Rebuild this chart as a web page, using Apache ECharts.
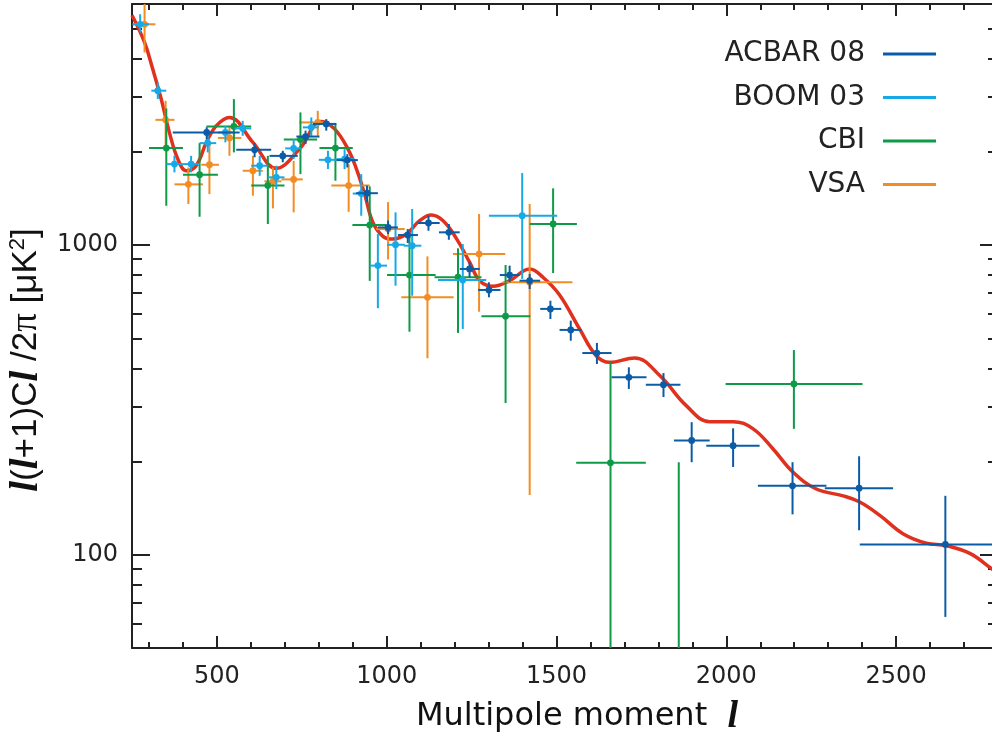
<!DOCTYPE html>
<html>
<head>
<meta charset="utf-8">
<style>
  html, body { margin: 0; padding: 0; background: #fff; }
  #chart { width: 992px; height: 738px; }
</style>
<script src="https://cdn.jsdelivr.net/npm/echarts@6.0.0/dist/echarts.min.js"></script>
</head>
<body>
<div id="chart"></div>
<script>
// each point: [l, value, lLow, lHigh, valueLow, valueHigh]
var acbar = [
  [470, 2310, 370, 567, 2200, 2400],
  [611, 2030, 557, 660, 1920, 2130],
  [694, 1940, 655, 738, 1850, 2015],
  [761, 2240, 734, 802, 2120, 2340],
  [822, 2460, 783, 852, 2340, 2550],
  [884, 1880, 852, 915, 1780, 1965],
  [942, 1470, 910, 974, 1375, 1555],
  [1004, 1140, 974, 1033, 1085, 1200],
  [1062, 1077, 1033, 1092, 1015, 1126],
  [1123, 1178, 1092, 1156, 1112, 1243],
  [1183, 1099, 1154, 1215, 1040, 1169],
  [1244, 837, 1215, 1274, 787, 880],
  [1301, 716, 1269, 1335, 678, 758],
  [1362, 800, 1333, 1391, 758, 858],
  [1421, 767, 1391, 1452, 721, 806],
  [1482, 622, 1452, 1514, 577, 661],
  [1542, 532, 1509, 1573, 491, 570],
  [1619, 448, 1576, 1662, 413, 483],
  [1713, 374, 1662, 1765, 343, 403],
  [1815, 354, 1763, 1865, 323, 386],
  [1898, 234, 1846, 1951, 199, 268],
  [2020, 225, 1941, 2098, 192, 256],
  [2195, 167, 2093, 2295, 135, 199],
  [2391, 164, 2290, 2491, 120, 208],
  [2645, 108, 2393, 2900, 63, 155]
];
var boom = [
  [274, 5160, 252, 300, 4855, 5560],
  [326, 3150, 307, 351, 2960, 3350],
  [375, 1825, 351, 400, 1716, 1941],
  [424, 1825, 400, 449, 1716, 1941],
  [473, 2133, 449, 498, 1991, 2281],
  [525, 2309, 503, 547, 2145, 2425],
  [576, 2380, 552, 601, 2252, 2518],
  [626, 1803, 601, 650, 1673, 1941],
  [675, 1654, 650, 699, 1516, 1803],
  [726, 2051, 701, 750, 1894, 2198],
  [778, 2398, 753, 800, 2252, 2582],
  [827, 1884, 800, 852, 1759, 2015],
  [876, 1894, 852, 905, 1759, 2040],
  [925, 1466, 900, 950, 1243, 1694],
  [974, 858, 950, 1001, 625, 1085],
  [1026, 1002, 1001, 1053, 739, 1275],
  [1075, 995, 1050, 1102, 686, 1307],
  [1224, 771, 1151, 1293, 536, 1007],
  [1399, 1243, 1301, 1502, 777, 1707]
];
var cbi = [
  [351, 2056, 300, 400, 1339, 2761],
  [449, 1686, 400, 503, 1234, 2133],
  [550, 2415, 469, 601, 1991, 2958],
  [650, 1558, 601, 699, 1169, 1941],
  [746, 2190, 697, 795, 1694, 2680],
  [849, 2056, 802, 900, 1613, 2457],
  [950, 1160, 899, 999, 766, 1546],
  [1067, 800, 1001, 1144, 525, 1064],
  [1210, 787, 1141, 1279, 520, 976],
  [1350, 589, 1279, 1423, 309, 862],
  [1490, 1169, 1421, 1560, 812, 1524],
  [1659, 198, 1558, 1763, 10, 418],
  [1860, 25, 1810, 1910, 5, 199],
  [2199, 356, 1998, 2401, 255, 458]
];
var vsa = [
  [287, 5160, 252, 319, 4184, 6500],
  [349, 2536, 319, 375, 2091, 2921],
  [416, 1570, 375, 459, 1356, 1780],
  [478, 1816, 454, 506, 1460, 2118],
  [537, 2217, 503, 572, 1941, 2425],
  [606, 1737, 576, 635, 1443, 1941],
  [665, 1606, 640, 690, 1313, 1780],
  [726, 1629, 690, 753, 1275, 1870],
  [797, 2488, 743, 832, 2252, 2712],
  [888, 1556, 837, 950, 1280, 1825],
  [1004, 1126, 969, 1053, 898, 1376],
  [1120, 678, 1043, 1197, 431, 919],
  [1272, 935, 1195, 1349, 609, 1259],
  [1421, 758, 1342, 1547, 156, 1356]
];
// best-fit model curve
var modelL = [250, 287, 311, 336, 360, 385, 410, 439, 469, 498, 537, 606, 675, 743, 807, 847, 886, 911, 935, 959, 989, 1018, 1058, 1097, 1131, 1166, 1205, 1244, 1274, 1313, 1362, 1421, 1460, 1509, 1568, 1617, 1656, 1730, 1804, 1882, 1951, 2020, 2079, 2137, 2196, 2265, 2344, 2393, 2452, 2520, 2589, 2648, 2717, 2782, 2800];
var modelC = [5520, 4510, 3700, 2960, 2310, 1894, 1737, 1803, 2145, 2425, 2582, 2145, 1768, 2040, 2506, 2367, 2040, 1759, 1460, 1184, 1067, 1045, 1085, 1198, 1250, 1198, 1051, 880, 767, 736, 767, 837, 787, 690, 536, 439, 418, 432, 379, 303, 269, 269, 255, 220, 185, 163, 155, 148, 134, 117, 109, 107, 101, 90, 87];

var xMajor = [500, 1000, 1500, 2000, 2500];
var xMinor = [300, 400, 600, 700, 800, 900, 1100, 1200, 1300, 1400, 1600, 1700, 1800, 1900, 2100, 2200, 2300, 2400, 2600, 2700];
var yMajor = [100, 1000];
var yMinor = [60, 70, 80, 90, 200, 300, 400, 500, 600, 700, 800, 900, 2000, 3000, 4000, 5000];

var names = ["ACBAR 08", "BOOM 03", "CBI", "VSA"];
var colors = ["#0b5ca6", "#17a9e6", "#0f9a48", "#f28c24"];

var ink = "#222";
var myChart = echarts.init(document.getElementById("chart"));

function errBars(params, api) {
  var c = api.coord([api.value(0), api.value(1)]);
  var h0 = api.coord([api.value(2), api.value(1)]);
  var h1 = api.coord([api.value(3), api.value(1)]);
  var v0 = api.coord([api.value(0), api.value(4)]);
  var v1 = api.coord([api.value(0), api.value(5)]);
  var color = api.visual("color");
  return {
    type: "group",
    children: [
      { type: "line", shape: { x1: h0[0], y1: h0[1], x2: h1[0], y2: h1[1] }, style: { stroke: color, lineWidth: 2 } },
      { type: "line", shape: { x1: v0[0], y1: v0[1], x2: v1[0], y2: v1[1] }, style: { stroke: color, lineWidth: 2 } },
      { type: "circle", shape: { cx: c[0], cy: c[1], r: 3.4 }, style: { fill: color } }
    ]
  };
}

function plain(v) { return String(v); }

function xAx(pos, ticks, len, main) {
  return {
    type: "value", position: pos, min: 250, max: 2800,
    axisLine: { show: main, lineStyle: { color: ink, width: 2 } },
    axisTick: { show: true, inside: true, length: len, customValues: ticks, lineStyle: { color: ink, width: 2 } },
    axisLabel: { show: main && pos === "bottom", customValues: xMajor, formatter: plain, margin: 17, color: ink, fontSize: 24, fontFamily: "DejaVu Sans" },
    splitLine: { show: false }
  };
}
function yAx(pos, ticks, len, main) {
  return {
    type: "log", logBase: 10, position: pos, min: 50, max: 6000,
    axisLine: { show: main, lineStyle: { color: ink, width: 2 } },
    axisTick: { show: true, inside: true, length: len, customValues: ticks, lineStyle: { color: ink, width: 2 } },
    axisLabel: { show: main && pos === "left", customValues: yMajor, formatter: plain, margin: 14, color: ink, fontSize: 24, fontFamily: "DejaVu Sans" },
    splitLine: { show: false },
    minorTick: { show: false }
  };
}

var xMain = xAx("bottom", xMajor, 12, true);
xMain.name = "{n|Multipole moment  }{i|l}";
xMain.nameLocation = "middle";
xMain.nameGap = 50;
xMain.nameTextStyle = {
  padding: [0, 0, 0, 24],
  rich: {
    n: { fontFamily: "DejaVu Sans", fontSize: 32, color: "#111" },
    i: { fontFamily: "Liberation Serif", fontStyle: "italic", fontWeight: "bold", fontSize: 38, color: "#111" }
  }
};
var yMain = yAx("left", yMajor, 18, true);
yMain.name = "{i|l}{n|(}{i|l}{n|+1)C}{i|l}{n| /2}{p|π}{n| [μK}{s|2}{n|]}";
yMain.nameLocation = "middle";
yMain.nameGap = 77;
yMain.nameTextStyle = {
  padding: [0, 68, 0, 0],
  rich: {
    n: { fontFamily: "Liberation Sans", fontSize: 35, color: "#111" },
    p: { fontFamily: "Liberation Serif", fontSize: 37, color: "#111" },
    i: { fontFamily: "Liberation Serif", fontStyle: "italic", fontWeight: "bold", fontSize: 39, color: "#111" },
    s: { fontFamily: "Liberation Sans", fontSize: 22, color: "#111", verticalAlign: "top" }
  }
};

var series = [{
  name: "model",
  type: "line",
  data: modelL.map(function (l, i) { return [l, modelC[i]]; }),
  smooth: 0.4,
  showSymbol: false,
  lineStyle: { color: "#e0301e", width: 3.5 },
  z: 1
}];
[vsa, cbi, boom, acbar].forEach(function (d) {
  var idx = [acbar, boom, cbi, vsa].indexOf(d);
  series.push({
    name: names[idx],
    type: "custom",
    renderItem: errBars,
    clip: true,
    encode: { x: [0, 2, 3], y: [1, 4, 5] },
    itemStyle: { color: colors[idx] },
    data: d,
    z: 2
  });
});

myChart.setOption({
  animation: false,
  backgroundColor: "#fff",
  grid: { left: 132, right: -6, top: 4, bottom: 90, containLabel: false, outerBoundsMode: "none" },
  legend: {
    orient: "vertical",
    right: 51,
    top: 34,
    align: "right",
    itemWidth: 53,
    itemHeight: 3,
    itemGap: 13.5,
    selectedMode: false,
    icon: "rect",
    data: names,
    textStyle: { fontFamily: "DejaVu Sans", fontSize: 28, color: ink, lineHeight: 30, padding: [0, 13, 0, 0] }
  },
  xAxis: [xMain, xAx("bottom", xMinor, 6, false), xAx("top", xMajor, 12, true), xAx("top", xMinor, 6, false)],
  yAxis: [yMain, yAx("left", yMinor, 10, false), yAx("right", yMajor, 18, true), yAx("right", yMinor, 10, false)],
  series: series
});
</script>
</body>
</html>
